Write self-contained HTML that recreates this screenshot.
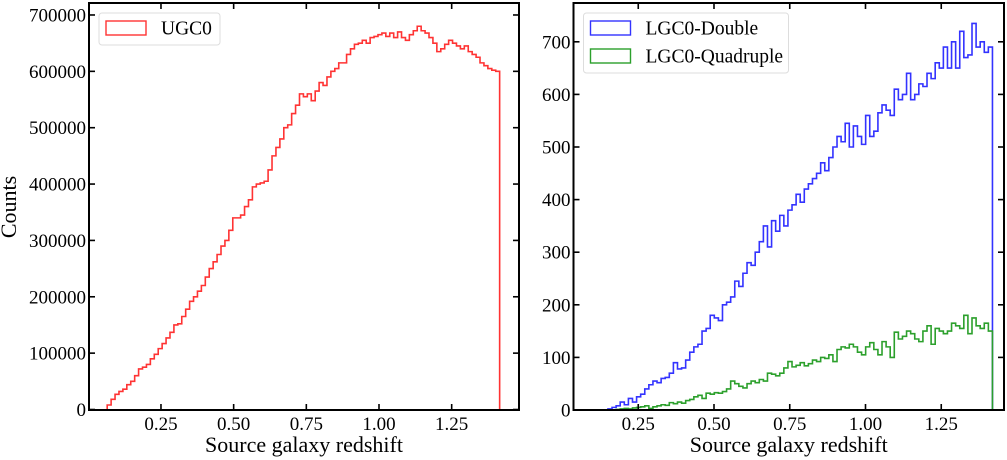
<!DOCTYPE html>
<html><head><meta charset="utf-8"><style>
body{margin:0;background:#fff;}
svg{display:block;font-family:"Liberation Serif",serif;}
</style></head><body>
<svg id="chart" width="1007" height="460"></svg>
<script>
const leftStart = 0.065, leftStep = 0.0135;
const ugc0Counts = [8,18,27,32,36,44,50,60,72,75,
80,90,98,108,117,127,137,150,152,165,
178,192,200,210,220,235,250,262,275,290,
300,318,340,340,345,360,372,395,400,402,
405,425,450,465,480,500,505,525,540,560,
555,560,548,565,580,575,590,600,605,615,
615,630,640,648,650,655,650,660,662,665,
668,662,668,660,670,660,655,665,672,680,
672,668,660,650,635,640,648,655,650,645,
640,645,635,630,625,615,610,605,602,600].map(v=>v*1000);
const rightStart = 0.15, rightStep = 0.0135;
const doubleCounts = [2,5,8,15,10,22,15,25,30,40,
48,55,52,60,62,70,90,78,80,95,
110,120,125,150,155,180,175,170,200,205,
215,245,235,260,280,275,300,320,350,310,
360,340,370,350,380,390,410,395,420,430,
440,450,470,455,480,500,520,510,545,500,
540,520,505,560,520,530,565,580,570,560,
610,590,600,640,590,600,620,615,640,630,
660,650,690,650,700,650,720,670,675,735,
690,700,680,690];
const quadCounts = [0,0,1,2,3,2,4,5,6,8,
3,6,8,10,9,14,12,15,13,18,
20,25,28,22,32,30,33,32,35,40,
55,50,45,42,50,55,52,58,55,70,
68,65,70,80,92,82,85,90,84,88,
95,92,100,98,105,92,115,120,118,125,
120,110,105,120,128,115,105,130,120,100,
148,135,140,150,145,135,130,150,160,125,
155,150,145,150,165,160,155,180,145,175,
160,155,165,150];
const xTicks = [0.25,0.5,0.75,1.0,1.25];
const xTickLabels = ["0.25","0.50","0.75","1.00","1.25"];
const leftYTicks = [0,100000,200000,300000,400000,500000,600000,700000];
const rightYTicks = [0,100,200,300,400,500,600,700];

const NS="http://www.w3.org/2000/svg";
const svg=document.getElementById('chart');
function mk(tag,attrs,parent){const e=document.createElementNS(NS,tag);for(const k in attrs)e.setAttribute(k,attrs[k]);(parent||svg).appendChild(e);return e;}

function panel(cfg){
  const g=mk('g',{});
  
  
  const sx=v=>cfg.x0px+(v-cfg.xmin)*cfg.xs;
  const sy=v=>cfg.y0px-v*cfg.ys;
  cfg.series.forEach(s=>{
    let d='M'+sx(s.start)+','+sy(0);
    s.vals.forEach((v,i)=>{const a=sx(s.start+i*s.step),b=sx(s.start+(i+1)*s.step);d+=' L'+a+','+sy(v)+' L'+b+','+sy(v);});
    d+=' L'+sx(s.start+s.vals.length*s.step)+','+sy(0);
    const p=mk('path',{d:d,fill:'none',stroke:s.color,'stroke-width':1.6},g);
    
    
  });
  const L=cfg.L,R=cfg.R,T=3,B=410;
  const fr=mk('rect',{x:L,y:T,width:R-L,height:B-T,fill:'none',stroke:'#000','stroke-width':2},g);
  
  
  xTicks.forEach((t,i)=>{
    const x=sx(t);
    mk('line',{x1:x,x2:x,y1:B,y2:B-6,stroke:'#000','stroke-width':1.6},g);
    mk('line',{x1:x,x2:x,y1:T,y2:T+6,stroke:'#000','stroke-width':1.6},g);
    const tx=mk('text',{x:x,y:B+20,'text-anchor':'middle','font-size':19},g);
    tx.textContent=xTickLabels[i];
    
    
  });
  cfg.yTicks.forEach(t=>{
    const y=sy(t);
    mk('line',{x1:L,x2:L+6,y1:y,y2:y,stroke:'#000','stroke-width':1.6},g);
    mk('line',{x1:R,x2:R-6,y1:y,y2:y,stroke:'#000','stroke-width':1.6},g);
    const tx=mk('text',{x:L-3,y:y+6.5,'text-anchor':'end','font-size':19},g);
    tx.textContent=String(t);
    
    
  });
  const xl=mk('text',{x:(L+R)/2,y:452,'text-anchor':'middle','font-size':22},g);
  xl.textContent='Source galaxy redshift';
  
  
  const lg=mk('g',{},g);
  
  
  mk('rect',{x:L+10,y:13,width:cfg.legW,height:cfg.series.length*28+4,rx:3,fill:'#fff',stroke:'#ddd','stroke-width':1},lg);
  cfg.series.forEach((s,i)=>{
    const cy=28+i*28;
    mk('rect',{x:L+17,y:cy-7,width:40,height:14,fill:'none',stroke:s.color,'stroke-width':1.4},lg);
    const t=mk('text',{x:L+72,y:cy+6.5,'font-size':19.5},lg);
    t.textContent=s.label;
    
    
  });
}

panel({name:'ugc0-panel',L:89,R:519,x0px:88.3,xmin:0,xs:290.7,y0px:409.5,ys:56.36/100000,yTicks:leftYTicks,legW:121,
  series:[{name:'ugc0-histogram',label:'UGC0',color:'#ff3333',start:leftStart,step:leftStep,vals:ugc0Counts}]});
panel({name:'lgc0-panel',L:573.5,R:1004,x0px:562.5,xmin:0,xs:303,y0px:410,ys:0.526,yTicks:rightYTicks,legW:205,
  series:[{name:'double-histogram',label:'LGC0-Double',color:'#3333ff',start:rightStart,step:rightStep,vals:doubleCounts},
          {name:'quadruple-histogram',label:'LGC0-Quadruple',color:'#2ca02c',start:rightStart,step:rightStep,vals:quadCounts}]});

const yl=mk('text',{x:0,y:0,'text-anchor':'middle','font-size':22,transform:'translate(16,207) rotate(-90)'});
yl.textContent='Counts';


</script>
</body></html>
